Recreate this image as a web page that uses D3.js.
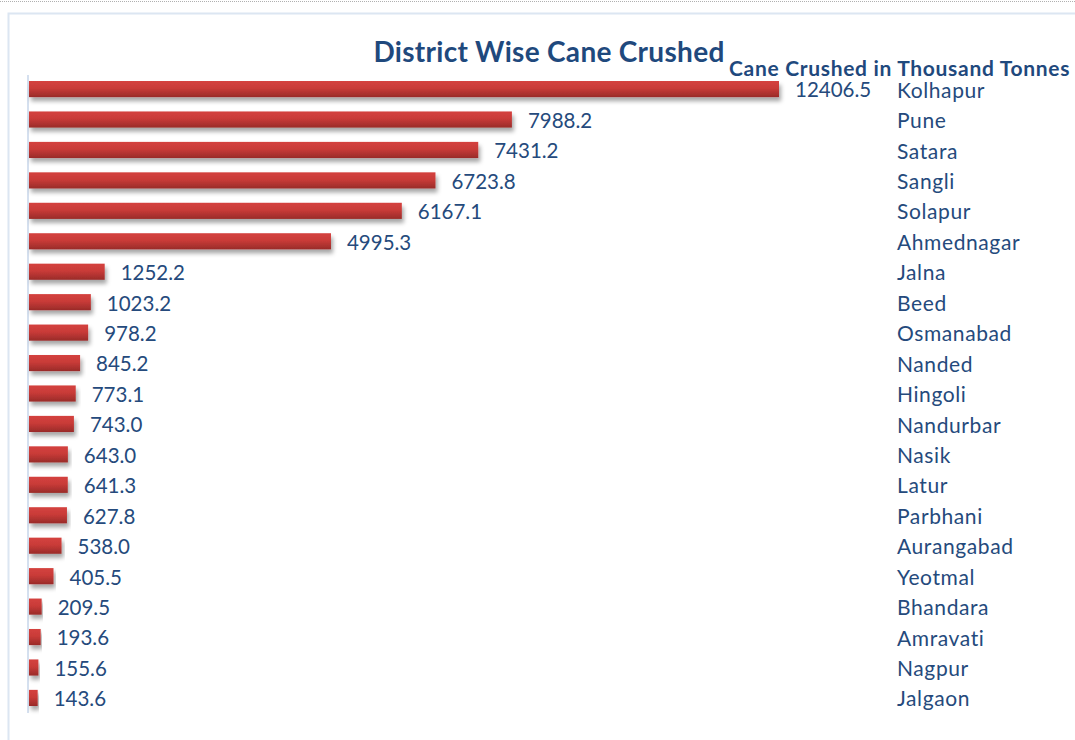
<!DOCTYPE html>
<html>
<head>
<meta charset="utf-8">
<title>District Wise Cane Crushed</title>
<script src="https://cdn.jsdelivr.net/npm/d3@7"></script>
<style>
body { margin: 0; background: #fff; }
svg text { font-family: Lato, "Open Sans", sans-serif; fill: #254a7c; }
</style>
</head>
<body>
<svg id="chart" width="1075" height="740"></svg>
<script>
// data
var districts = ["Kolhapur", "Pune", "Satara", "Sangli", "Solapur", "Ahmednagar", "Jalna", "Beed",
  "Osmanabad", "Nanded", "Hingoli", "Nandurbar", "Nasik", "Latur", "Parbhani", "Aurangabad",
  "Yeotmal", "Bhandara", "Amravati", "Nagpur", "Jalgaon"];
var caneCrushed = [12406.5, 7988.2, 7431.2, 6723.8, 6167.1, 4995.3, 1252.2, 1023.2,
  978.2, 845.2, 773.1, 743.0, 643.0, 641.3, 627.8, 538.0,
  405.5, 209.5, 193.6, 155.6, 143.6];
var title = "District Wise Cane Crushed";
var subtitle = "Cane Crushed in Thousand Tonnes";

var svg = d3.select("#chart");
var defs = svg.append("defs");

var grad = defs.append("linearGradient").attr("id", "barGrad")
  .attr("x1", 0).attr("y1", 0).attr("x2", 0).attr("y2", 1);
grad.append("stop").attr("offset", "0%").attr("stop-color", "#d4423f");
grad.append("stop").attr("offset", "45%").attr("stop-color", "#c93b38");
grad.append("stop").attr("offset", "100%").attr("stop-color", "#992b29");

var shadow = defs.append("filter").attr("id", "shadow")
  .attr("x", "-5%").attr("y", "-30%").attr("width", "115%").attr("height", "190%");
shadow.append("feDropShadow").attr("dx", 2).attr("dy", 4).attr("stdDeviation", 2.2)
  .attr("flood-color", "#000").attr("flood-opacity", 0.35);

// page decoration: dotted line and chart frame
svg.append("line").attr("x1", 0).attr("x2", 1075).attr("y1", 1.5).attr("y2", 1.5)
  .attr("stroke", "#b0b0b0").attr("stroke-dasharray", "1,1");
svg.append("path").attr("d", "M8.5,740 V13.5 H1075")
  .attr("fill", "none").attr("stroke", "#dce6f2").attr("stroke-width", 2);

var x = d3.scaleLinear().domain([0, d3.max(caneCrushed)]).range([29, 779]);
var y = d3.scaleBand().domain(districts).range([74, 713]).paddingInner(0.47).paddingOuter(0.23);

svg.append("line").attr("x1", 28).attr("x2", 28).attr("y1", 75).attr("y2", 713)
  .attr("stroke", "#d5e0ef").attr("stroke-width", 2);

var rows = svg.selectAll("g.row").data(districts).enter().append("g").attr("class", "row");

rows.append("rect")
  .attr("x", x(0))
  .attr("y", function(d) { return y(d); })
  .attr("width", function(d, i) { return x(caneCrushed[i]) - x(0); })
  .attr("height", y.bandwidth())
  .attr("fill", "url(#barGrad)")
  .attr("filter", "url(#shadow)");

rows.append("text")
  .attr("x", function(d, i) { return x(caneCrushed[i]) + 16; })
  .attr("y", function(d) { return y(d) + y.bandwidth() / 2 + 1; })
  .attr("dy", "0.36em")
  .attr("font-size", 20.5)
  .text(function(d, i) { return caneCrushed[i].toFixed(1); });

rows.append("text")
  .attr("x", 897)
  .attr("y", function(d) { return y(d) + y.bandwidth() / 2 + 1; })
  .attr("dy", "0.36em")
  .attr("font-size", 21)
  .attr("letter-spacing", 0.6)
  .text(function(d) { return d; });

svg.append("text").attr("x", 549).attr("y", 62).attr("text-anchor", "middle")
  .attr("font-size", 28).attr("font-weight", "bold").attr("letter-spacing", 0.3)
  .style("fill", "#1f497d").text(title);
svg.append("text").attr("x", 729).attr("y", 76)
  .attr("font-size", 21).attr("font-weight", "bold").attr("letter-spacing", 0.6)
  .attr("textLength", 341).attr("lengthAdjust", "spacing")
  .style("fill", "#1f497d").text(subtitle);
</script>
</body>
</html>
